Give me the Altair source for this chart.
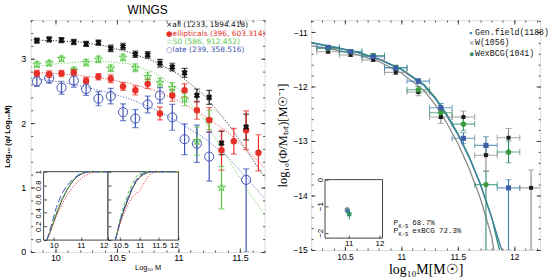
import altair as alt
import pandas as pd

# ================= left panel (WINGS) =================
all_x = [9.85, 9.95, 10.05, 10.15, 10.25, 10.35, 10.45, 10.55, 10.65, 10.75, 10.85, 10.95, 11.05, 11.15, 11.25, 11.35, 11.55]
all_y = [3.28, 3.30, 3.29, 3.26, 3.23, 3.25, 3.16, 3.19, 3.07, 3.06, 2.93, 2.87, 2.78, 2.43, 2.40, 1.69, 1.94]
all_e = [0.04, 0.04, 0.04, 0.04, 0.04, 0.04, 0.05, 0.05, 0.05, 0.05, 0.06, 0.06, 0.07, 0.10, 0.11, 0.18, 0.20]

ell_x = [9.85, 9.95, 10.05, 10.15, 10.25, 10.35, 10.45, 10.55, 10.65, 10.75, 10.85, 10.95, 11.05, 11.15, 11.25, 11.35, 11.45, 11.55, 11.65]
ell_y = [2.77, 2.76, 2.77, 2.79, 2.66, 2.72, 2.69, 2.57, 2.51, 2.61, 2.15, 2.43, 2.51, 2.20, 2.05, 1.58, 1.72, 1.89, 1.54]
ell_e = [0.05, 0.05, 0.05, 0.05, 0.05, 0.05, 0.06, 0.06, 0.07, 0.07, 0.10, 0.09, 0.10, 0.14, 0.19, 0.31, 0.20, 0.30, 0.28]

s0_x = [9.85, 9.95, 10.05, 10.15, 10.25, 10.35, 10.45, 10.55, 10.65, 10.75, 10.85, 10.95, 11.05, 11.15, 11.25, 11.35]
s0_y = [2.91, 2.93, 3.00, 2.82, 2.94, 2.99, 2.85, 3.02, 2.86, 2.72, 2.63, 2.55, 2.37, 1.72, 2.05, 1.00]
s0_e = [0.04, 0.04, 0.04, 0.05, 0.05, 0.05, 0.05, 0.05, 0.06, 0.07, 0.07, 0.08, 0.10, 0.22, 0.15, 0.33]

late_x = [9.85, 9.95, 10.05, 10.15, 10.25, 10.35, 10.45, 10.55, 10.65, 10.75, 10.85, 10.95, 11.05, 11.15, 11.25, 11.55]
late_y = [2.65, 2.70, 2.55, 2.66, 2.53, 2.38, 2.42, 2.17, 2.07, 2.29, 2.43, 2.09, 1.75, 1.68, 1.48, 1.12]
late_up = [0.08, 0.08, 0.10, 0.10, 0.10, 0.11, 0.12, 0.13, 0.14, 0.13, 0.12, 0.20, 0.24, 0.29, 0.38, 0.17]
late_dn = [0.08, 0.08, 0.10, 0.10, 0.10, 0.11, 0.12, 0.13, 0.14, 0.13, 0.12, 0.20, 0.24, 0.29, 0.38, 1.12]

fit_x = [9.8, 10.0, 10.2, 10.4, 10.6, 10.8, 11.0, 11.2, 11.4, 11.6, 11.7]
fit_all = [3.29, 3.28, 3.26, 3.20, 3.10, 2.96, 2.76, 2.45, 2.00, 1.45, 1.15]
fit_ell = [2.79, 2.77, 2.74, 2.69, 2.62, 2.51, 2.35, 2.13, 1.86, 1.50, 1.30]
fit_s0 = [2.87, 2.92, 2.95, 2.96, 2.92, 2.79, 2.53, 2.08, 1.45, 0.85, 0.58]
fit_late = [2.70, 2.65, 2.58, 2.49, 2.38, 2.22, 2.02, 1.78, 1.48, 1.05, 0.83]

# cumulative distributions (insets)
cum1_x = [9.75, 9.9, 10.1, 10.3, 10.5, 10.7, 10.9, 11.1, 11.3, 11.5, 12.0]
cum1_all = [0.0, 0.15, 0.38, 0.58, 0.74, 0.86, 0.94, 0.98, 1.0, 1.0, 1.0]
cum1_ell = [0.0, 0.14, 0.35, 0.52, 0.66, 0.77, 0.86, 0.93, 0.97, 1.0, 1.0]
cum1_s0 = [0.0, 0.16, 0.40, 0.60, 0.75, 0.87, 0.95, 0.99, 1.0, 1.0, 1.0]
cum1_late = [0.0, 0.20, 0.48, 0.68, 0.80, 0.89, 0.95, 0.99, 1.0, 1.0, 1.0]
cum2_x = [10.37, 10.5, 10.6, 10.7, 10.8, 10.9, 11.0, 11.1, 11.2, 11.3, 11.5, 12.0]
cum2_all = [0.0, 0.28, 0.45, 0.60, 0.74, 0.85, 0.92, 0.96, 0.99, 1.0, 1.0, 1.0]
cum2_ell = [0.0, 0.25, 0.40, 0.52, 0.62, 0.68, 0.72, 0.82, 0.92, 0.98, 1.0, 1.0]
cum2_s0 = [0.0, 0.32, 0.52, 0.68, 0.82, 0.92, 0.97, 0.99, 1.0, 1.0, 1.0, 1.0]
cum2_late = [0.0, 0.30, 0.47, 0.62, 0.76, 0.87, 0.94, 0.98, 1.0, 1.0, 1.0, 1.0]

SER = ['all', 'ell', 's0', 'late']
SER_COL = ['#111111', '#e8302a', '#5cc84a', '#3f55b5']
leg_txt = ['×all (1233, 1894.418)', '●ellipticals (396, 603.314)', '☆S0 (586, 912.452)', '○late (239, 358.516)']
leg_y = [3.53, 3.39, 3.26, 3.13]

# ================= right panel =================
gen_x = [10.35, 10.55, 10.75, 10.95, 11.15, 11.35, 11.55, 11.75, 11.95]
gen_y = [-11.28, -11.36, -11.45, -11.66, -11.90, -12.39, -12.95, -13.08, -13.86]
gen_up = [0.03, 0.03, 0.03, 0.04, 0.05, 0.08, 0.10, 0.16, 0.15]
gen_dn = [0.03, 0.03, 0.03, 0.04, 0.05, 0.08, 0.10, 0.16, 1.14]

w_x = [10.35, 10.55, 10.75, 10.95, 11.15, 11.35, 11.55, 11.75, 11.95, 12.15]
w_y = [-11.36, -11.42, -11.51, -11.74, -12.10, -12.56, -12.56, -13.26, -12.94, -13.86]
w_up = [0.03, 0.03, 0.03, 0.04, 0.07, 0.12, 0.11, 0.15, 0.17, 0.33]
w_dn = [0.03, 0.03, 0.03, 0.04, 0.07, 0.12, 0.11, 0.30, 0.30, 1.14]

wex_x = [10.35, 10.55, 10.75, 10.95, 11.15, 11.35, 11.55, 11.75, 11.95]
wex_y = [-11.30, -11.36, -11.43, -11.65, -12.06, -12.48, -12.69, -13.80, -13.20]
wex_up = [0.03, 0.03, 0.03, 0.04, 0.06, 0.10, 0.12, 0.25, 0.20]
wex_dn = [0.03, 0.03, 0.03, 0.04, 0.06, 0.10, 0.12, 1.20, 0.20]

x_half = 0.1

gfit_x = [10.2, 10.4, 10.6, 10.8, 11.0, 11.2, 11.3, 11.4, 11.5, 11.6, 11.7, 11.8, 11.89]
gfit_y = [-11.20, -11.28, -11.37, -11.50, -11.69, -11.98, -12.22, -12.53, -12.88, -13.30, -13.80, -14.40, -15.0]
efit_x = [10.2, 10.4, 10.6, 10.8, 11.0, 11.2, 11.3, 11.4, 11.5, 11.6, 11.7, 11.8, 11.87]
efit_y = [-11.19, -11.27, -11.36, -11.49, -11.68, -11.96, -12.20, -12.50, -12.86, -13.28, -13.78, -14.40, -15.0]
wfit_x = [10.2, 10.4, 10.6, 10.8, 11.0, 11.2, 11.3, 11.4, 11.5, 11.6, 11.7, 11.8, 11.82]
wfit_y = [-11.25, -11.32, -11.41, -11.54, -11.75, -12.07, -12.33, -12.66, -13.04, -13.50, -14.05, -14.75, -15.0]

ins_x = [10.94, 10.97, 11.02]
ins_y = [-1.14, -1.18, -1.30]
ins_e = [0.12, 0.15, 0.2]
ins_xe = [0.05, 0.05, 0.06]

RSER = ['gen', 'w', 'wex']
RSER_COL = ['#3e5da8', '#1a1a1a', '#3a9a3a']
rleg_sym = ['▪', '×', '●']
rleg_txt = ['Gen.field(1188)', 'W(1056)', 'WexBCG(1041)']
rleg_y = [-11.01, -11.21, -11.41]

# ---------------- helpers ----------------
SANS = 'Liberation Sans'
SERIF = 'Liberation Serif'
MONO = 'Liberation Mono'


def scl(domain, rng=None):
    kw = dict(domain=domain, zero=False, nice=False)
    if rng is not None:
        kw['range'] = rng
    return alt.Scale(**kw)


def axis(orient, size, values=None, labels=False, title=None, **kw):
    d = dict(orient=orient, tickSize=size, offset=-size, domain=False, grid=False,
             labels=labels, ticks=True, tickColor='#222222', tickWidth=0.8, title=title)
    if values is not None:
        d['values'] = values
    d.update(kw)
    return alt.Axis(**d)


def rows(name, xs, ys, up, dn):
    return [dict(s=name, x=x, y=y, lo=y - d, hi=y + u) for x, y, u, d in zip(xs, ys, up, dn)]


# ---------------- left panel ----------------
LW, LH = 236, 234
LXD, LYD = [9.8, 11.7], [0, 3.6]

pts = pd.DataFrame(rows('all', all_x, all_y, all_e, all_e) + rows('ell', ell_x, ell_y, ell_e, ell_e)
                   + rows('s0', s0_x, s0_y, s0_e, s0_e) + rows('late', late_x, late_y, late_up, late_dn))
fits = pd.DataFrame([dict(s=n, x=x, y=y) for n, ys in zip(SER, [fit_all, fit_ell, fit_s0, fit_late])
                     for x, y in zip(fit_x, ys)])
cum1 = pd.DataFrame([dict(s=n, x=x, y=y) for n, ys in zip(SER, [cum1_all, cum1_ell, cum1_s0, cum1_late])
                     for x, y in zip(cum1_x, ys)])
cum2 = pd.DataFrame([dict(s=n, x=x, y=y) for n, ys in zip(SER, [cum2_all, cum2_ell, cum2_s0, cum2_late])
                     for x, y in zip(cum2_x, ys)])
leg = pd.DataFrame(dict(s=SER, txt=leg_txt, y=leg_y, x=[10.9] * 4))

col = alt.Color('s:N', scale=alt.Scale(domain=SER, range=SER_COL), legend=None)
lx_minor = [round(9.8 + 0.1 * i, 2) for i in range(20)]
ly_minor = [round(0.2 * i, 2) for i in range(19)]

def LX(field='x', axis_=None):
    return alt.X(f'{field}:Q', scale=scl(LXD), axis=axis_)

def LY(field='y', axis_=None):
    return alt.Y(f'{field}:Q', scale=scl(LYD), axis=axis_)

l_fit = alt.Chart(fits).mark_line(strokeDash=[1.2, 1.6], strokeWidth=1, opacity=0.85, clip=True).encode(
    x=LX(axis_=axis('bottom', 4, [10, 10.5, 11, 11.5], True, 'Log₁₀ M', format='~g', labelFont=SANS,
                    labelFontSize=9, labelPadding=2, titleFont=SANS, titleFontSize=7.5,
                    titleFontWeight='normal', titlePadding=1)),
    y=LY(axis_=axis('left', 4, [0, 1, 2, 3], True, 'Log₁₀ (φ/ Log₁₀M)', format='~g', labelFont=SANS,
                    labelFontSize=9, labelPadding=5, titleFont=SANS, titleFontSize=7.5,
                    titleFontWeight='bold', titlePadding=9)),
    color=col)
l_ax2 = alt.Chart(fits).mark_point(opacity=0).encode(x=LX(axis_=axis('bottom', 2, lx_minor)),
                                                     y=LY(axis_=axis('left', 2, ly_minor)))
l_ax3 = alt.Chart(fits).mark_point(opacity=0).encode(x=LX(axis_=axis('top', 4, [10, 10.5, 11, 11.5])),
                                                     y=LY(axis_=axis('right', 4, [0, 1, 2, 3])))
l_ax4 = alt.Chart(fits).mark_point(opacity=0).encode(x=LX(axis_=axis('top', 2, lx_minor)),
                                                     y=LY(axis_=axis('right', 2, ly_minor)))
l_err = alt.Chart(pts).mark_rule(strokeWidth=1.2, clip=True).encode(x=LX(), y=LY('lo'), y2='hi:Q', color=col)
l_cap1 = alt.Chart(pts).mark_tick(orient='horizontal', size=6, thickness=1.2, clip=True).encode(x=LX(), y=LY('lo'), color=col)
l_cap2 = alt.Chart(pts).mark_tick(orient='horizontal', size=6, thickness=1.2, clip=True).encode(x=LX(), y=LY('hi'), color=col)
STAR = 'M0,-1L0.225,-0.309L0.951,-0.309L0.363,0.118L0.588,0.809L0,0.382L-0.588,0.809L-0.363,0.118L-0.951,-0.309L-0.225,-0.309Z'
l_p_all = alt.Chart(pts[pts.s == 'all']).mark_point(shape='cross', angle=45, filled=True, size=40,
                                                   color=SER_COL[0], opacity=1).encode(x=LX(), y=LY())
l_p_ell = alt.Chart(pts[pts.s == 'ell']).mark_point(shape='circle', filled=True, size=42,
                                                   color=SER_COL[1], opacity=1).encode(x=LX(), y=LY())
l_p_s0 = alt.Chart(pts[pts.s == 's0']).mark_point(shape=STAR, filled=False, size=70, strokeWidth=1,
                                                 color=SER_COL[2], opacity=1).encode(x=LX(), y=LY())
l_p_late = alt.Chart(pts[pts.s == 'late']).mark_point(shape='circle', filled=False, size=85, strokeWidth=1,
                                                     color=SER_COL[3], opacity=1).encode(x=LX(), y=LY())
l_leg = alt.Chart(leg).mark_text(align='left', baseline='middle', font='DejaVu Sans', fontSize=7.5).encode(
    x=LX(), y=LY(), text='txt:N', color=col)

# insets
I1X, I1Y = scl([9.63, 12.0], [13, 78]), scl([0, 1], [222, 153])
I2X, I2Y = scl([10.18, 12.0], [78, 149]), scl([0, 1], [222, 153])
frame1 = pd.DataFrame(dict(x0=[9.63], x1=[12.0], y0=[0], y1=[1]))
frame2 = pd.DataFrame(dict(x0=[10.18], x1=[12.0], y0=[0], y1=[1]))
dash = alt.StrokeDash('s:N', scale=alt.Scale(domain=SER, range=[[1, 0], [1.2, 1.6], [4, 2], [7, 3]]), legend=None)

f1 = alt.Chart(frame1).mark_rect(fill='white', stroke='#111111', strokeWidth=0.8).encode(
    x=alt.X('x0:Q', scale=I1X, axis=None), x2='x1:Q', y=alt.Y('y0:Q', scale=I1Y, axis=None), y2='y1:Q')
f2 = alt.Chart(frame2).mark_rect(fill='white', stroke='#111111', strokeWidth=0.8).encode(
    x=alt.X('x0:Q', scale=I2X, axis=None), x2='x1:Q', y=alt.Y('y0:Q', scale=I2Y, axis=None), y2='y1:Q')
c1 = alt.Chart(cum1).mark_line(strokeWidth=1).encode(
    x=alt.X('x:Q', scale=I1X, axis=axis('bottom', 3, [10, 11, 12], True, None, offset=-(LH - 222) - 3,
                                         format='~g', labelFont=SANS, labelFontSize=8, labelPadding=1, zindex=1)),
    y=alt.Y('y:Q', scale=I1Y, axis=axis('left', 3, [0, 0.2, 0.4, 0.6, 0.8, 1], True, None, offset=-16,
                                         format='~g', labelFont=SANS, labelFontSize=7.5, labelAngle=270,
                                         labelPadding=1, zindex=1)),
    color=col, strokeDash=dash, order='x:Q')
c2 = alt.Chart(cum2).mark_line(strokeWidth=1).encode(
    x=alt.X('x:Q', scale=I2X, axis=axis('bottom', 3, [10.5, 11, 11.5, 12], True, None, offset=-(LH - 222) - 3,
                                         format='~g', labelFont=SANS, labelFontSize=8, labelPadding=1, zindex=1)),
    y=alt.Y('y:Q', scale=I2Y, axis=axis('left', 3, [0, 0.2, 0.4, 0.6, 0.8, 1], False, None, offset=-81, zindex=1)),
    color=col, strokeDash=dash, order='x:Q')

left = alt.layer(l_fit, l_ax2, l_ax3, l_ax4, l_err, l_cap1, l_cap2, l_p_late, l_p_s0, l_p_ell, l_p_all,
                 l_leg, f1, f2, c1, c2).resolve_scale(x='independent', y='independent').properties(
    width=LW, height=LH,
    title=alt.TitleParams('WINGS', font=SANS, fontSize=12, fontWeight='normal', offset=3, anchor='middle'))

# ---------------- right panel ----------------
RW, RH = 231, 232
RXD, RYD = [10.2, 12.23], [-15, -10.78]

def rrows(name, xs, ys, up, dn):
    return [dict(r=name, x=x, y=y, lo=max(y - d, -15), hi=y + u, xlo=x - x_half, xhi=x + x_half)
            for x, y, u, d in zip(xs, ys, up, dn)]

rpts = pd.DataFrame(rrows('w', w_x, w_y, w_up, w_dn) + rrows('wex', wex_x, wex_y, wex_up, wex_dn)
                    + rrows('gen', gen_x, gen_y, gen_up, gen_dn))
rfits = pd.DataFrame([dict(r=n, x=x, y=y) for n, xs, ys in
                      zip(['w', 'wex', 'gen'], [wfit_x, efit_x, gfit_x], [wfit_y, efit_y, gfit_y])
                      for x, y in zip(xs, ys)])
rleg = pd.DataFrame(dict(r=RSER, sym=rleg_sym, txt=rleg_txt, y=rleg_y, x=[11.6] * 3))
rins = pd.DataFrame(dict(r=['w', 'gen', 'wex'], x=ins_x, y=ins_y,
                         lo=[a - b for a, b in zip(ins_y, ins_e)], hi=[a + b for a, b in zip(ins_y, ins_e)],
                         xlo=[a - b for a, b in zip(ins_x, ins_xe)], xhi=[a + b for a, b in zip(ins_x, ins_xe)]))
pks = pd.DataFrame(dict(x=[10.93, 10.93], y=[-14.5, -14.66], rest=['68.7%', 'exBCG  72.3%']))

rcol = alt.Color('r:N', scale=alt.Scale(domain=RSER, range=RSER_COL), legend=None)
rx_minor = [round(10.2 + 0.1 * i, 2) for i in range(21)]
ry_minor = [round(-15 + 0.2 * i, 2) for i in range(22)]

def RX(field='x', axis_=None):
    return alt.X(f'{field}:Q', scale=scl(RXD), axis=axis_)

def RY(field='y', axis_=None):
    return alt.Y(f'{field}:Q', scale=scl(RYD), axis=axis_)

fitcol = alt.Color('r:N', scale=alt.Scale(domain=RSER, range=['#3f7fa6', '#8a8a8a', '#2e8f6a']), legend=None)
r_fit = alt.Chart(rfits).mark_line(strokeWidth=1.3, clip=True).encode(
    x=RX(axis_=axis('bottom', 4, [10.5, 11, 11.5, 12], True, 'log₁₀M[M☉]', format='~g', labelFont=SANS,
                    labelFontSize=8.5, labelPadding=3, titleFont=SERIF, titleFontSize=14,
                    titleFontWeight='normal', titlePadding=1)),
    y=RY(axis_=axis('left', 4, [-11, -12, -13, -14, -15], True, 'log₁₀(Φ/Mₜₒₜ)[M☉⁻¹]', format='~g',
                    labelFont=SANS, labelFontSize=8.5, labelPadding=4, titleFont=SERIF, titleFontSize=12.5,
                    titleFontWeight='normal', titlePadding=3)),
    color=fitcol, order='x:Q')
r_ax2 = alt.Chart(rfits).mark_point(opacity=0).encode(x=RX(axis_=axis('bottom', 2, rx_minor)),
                                                      y=RY(axis_=axis('left', 2, ry_minor)))
r_ax3 = alt.Chart(rfits).mark_point(opacity=0).encode(x=RX(axis_=axis('top', 4, [10.5, 11, 11.5, 12])),
                                                      y=RY(axis_=axis('right', 4, [-11, -12, -13, -14, -15])))
r_ax4 = alt.Chart(rfits).mark_point(opacity=0).encode(x=RX(axis_=axis('top', 2, rx_minor)),
                                                      y=RY(axis_=axis('right', 2, ry_minor)))
r_ev = alt.Chart(rpts).mark_rule(strokeWidth=1.1, clip=True).encode(x=RX(), y=RY('lo'), y2='hi:Q', color=rcol)
r_eh = alt.Chart(rpts).mark_rule(strokeWidth=1.1, clip=True, opacity=0.75).encode(x=RX('xlo'), x2='xhi:Q', y=RY(), color=rcol)
r_c1 = alt.Chart(rpts).mark_tick(orient='horizontal', size=6, thickness=1, clip=True).encode(x=RX(), y=RY('hi'), color=rcol)
r_c2 = alt.Chart(rpts).mark_tick(orient='horizontal', size=6, thickness=1, clip=True).encode(x=RX(), y=RY('lo'), color=rcol)
r_c3 = alt.Chart(rpts).mark_tick(orient='vertical', size=6, thickness=1, clip=True, opacity=0.75).encode(x=RX('xlo'), y=RY(), color=rcol)
r_c4 = alt.Chart(rpts).mark_tick(orient='vertical', size=6, thickness=1, clip=True, opacity=0.75).encode(x=RX('xhi'), y=RY(), color=rcol)
r_p_gen = alt.Chart(rpts[rpts.r == 'gen']).mark_point(shape='square', filled=True, size=26, opacity=1,
                                                     color=RSER_COL[0]).encode(x=RX(), y=RY())
r_p_w = alt.Chart(rpts[rpts.r == 'w']).mark_point(shape='square', filled=True, size=16, opacity=1,
                                                 color=RSER_COL[1]).encode(x=RX(), y=RY())
r_p_wex = alt.Chart(rpts[rpts.r == 'wex']).mark_point(shape='circle', filled=True, size=28, opacity=1,
                                                     color=RSER_COL[2]).encode(x=RX(), y=RY())
r_leg_s = alt.Chart(rleg).mark_text(align='left', baseline='middle', font=SANS, fontSize=9).encode(
    x=RX(), y=RY(), text='sym:N', color=rcol)
r_leg_t = alt.Chart(rleg).mark_text(align='left', baseline='middle', font=MONO, fontSize=8.3, dx=6,
                                    color='#111111').encode(x=RX(), y=RY(), text='txt:N')
r_pk1 = alt.Chart(pks).mark_text(align='left', baseline='middle', font=MONO, fontSize=8, color='#111111',
                                 text='P').encode(x=RX(), y=RY())
r_pk2 = alt.Chart(pks).mark_text(align='left', baseline='middle', font=MONO, fontSize=5.5, color='#111111',
                                 text='K-S', dx=5, dy=3).encode(x=RX(), y=RY())
r_pk3 = alt.Chart(pks).mark_text(align='left', baseline='middle', font=MONO, fontSize=7.5, color='#111111',
                                 dx=19).encode(x=RX(), y=RY(), text='rest:N')

RIX, RIY = scl([10.23, 12.1], [14, 72]), scl([-2.2, 0], [220, 161])
rframe = pd.DataFrame(dict(x0=[10.23], x1=[12.1], y0=[-2.2], y1=[0]))
r_if = alt.Chart(rframe).mark_rect(fill='white', stroke='#111111', strokeWidth=0.8).encode(
    x=alt.X('x0:Q', scale=RIX, axis=axis('bottom', 3, [11, 12], True, None, offset=-(RH - 220) - 3,
                                          format='~g', labelFont=SANS, labelFontSize=8, labelPadding=1,
                                          zindex=1)),
    x2='x1:Q',
    y=alt.Y('y0:Q', scale=RIY, axis=axis('left', 3, [0, -1, -2], True, None, offset=-17, format='~g',
                                          labelFont=SANS, labelFontSize=8, labelAngle=270, labelPadding=1,
                                          zindex=1)),
    y2='y1:Q')
r_iev = alt.Chart(rins).mark_rule(strokeWidth=1).encode(
    x=alt.X('x:Q', scale=RIX, axis=None), y=alt.Y('lo:Q', scale=RIY, axis=None), y2='hi:Q', color=rcol)
r_ieh = alt.Chart(rins).mark_rule(strokeWidth=1).encode(
    x=alt.X('xlo:Q', scale=RIX, axis=None), x2='xhi:Q', y=alt.Y('y:Q', scale=RIY, axis=None), color=rcol)
r_ip = alt.Chart(rins).mark_point(shape='square', filled=True, size=18, opacity=1).encode(
    x=alt.X('x:Q', scale=RIX, axis=None), y=alt.Y('y:Q', scale=RIY, axis=None), color=rcol)

right = alt.layer(r_fit, r_ax2, r_ax3, r_ax4, r_ev, r_eh, r_c1, r_c2, r_c3, r_c4, r_p_w, r_p_wex, r_p_gen,
                  r_leg_s, r_leg_t, r_pk1, r_pk2, r_pk3, r_if, r_iev, r_ieh, r_ip).resolve_scale(
    x='independent', y='independent').properties(width=RW, height=RH)

chart = alt.hconcat(left, right, spacing=47, bounds='flush').resolve_scale(
    color='independent', strokeDash='independent').properties(
    padding={'left': 3, 'top': 2, 'right': 0, 'bottom': 0}
).configure_view(stroke='#111111', strokeWidth=1).configure(background='white')

chart.save('out.html', embed_options={'renderer': 'svg', 'actions': False})
